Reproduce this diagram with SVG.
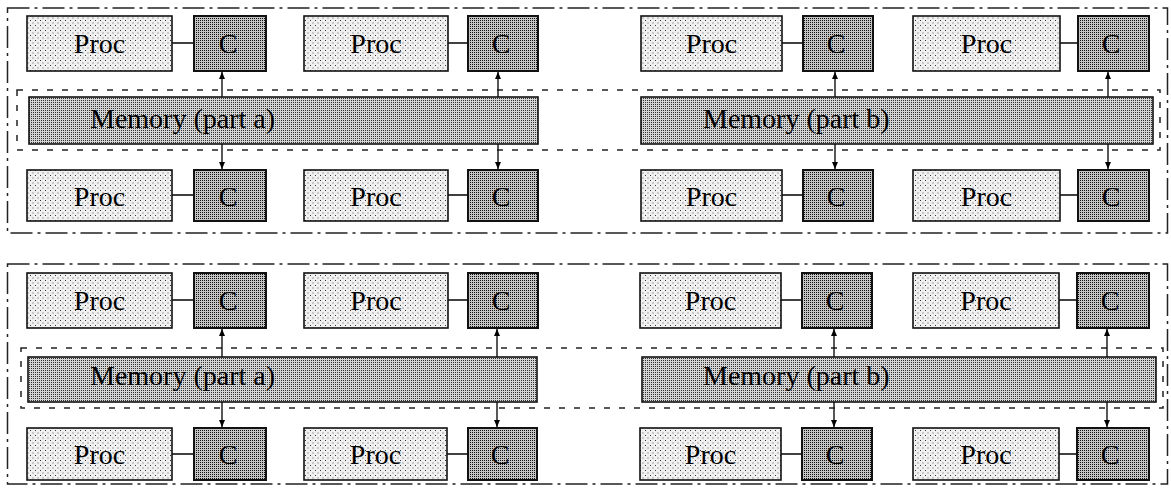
<svg xmlns="http://www.w3.org/2000/svg" width="1171" height="489" viewBox="0 0 1171 489">
<defs>
<pattern id="pProc" width="5" height="5" patternUnits="userSpaceOnUse">
<rect width="5" height="5" fill="#f0f0f0"/>
<rect x="0" y="0" width="1" height="1" fill="#333"/>
<rect x="2.5" y="2.5" width="1" height="1" fill="#555"/>
</pattern>
<pattern id="pC" width="2" height="2" patternUnits="userSpaceOnUse">
<rect width="2" height="2" fill="#c4c4c4"/>
<rect x="0" y="0" width="1" height="1" fill="#111"/>
</pattern>
<pattern id="pMem" width="2" height="2" patternUnits="userSpaceOnUse">
<rect width="2" height="2" fill="#d4d4d4"/>
<rect x="1" y="0" width="1" height="1" fill="#333"/>
</pattern>
<marker id="arr" markerWidth="8" markerHeight="8" refX="7" refY="4" orient="auto" markerUnits="userSpaceOnUse">
<path d="M0,1 L7,4 L0,7 Z" fill="#000"/>
</marker>
</defs>
<style>
.outer{fill:none;stroke:#222;stroke-width:1.5;stroke-dasharray:22 5 3 5}
.memzone{fill:none;stroke:#222;stroke-width:1.5;stroke-dasharray:6 9}
.proc{fill:url(#pProc);stroke:#111;stroke-width:1.6}
.cache{fill:url(#pC);stroke:#111;stroke-width:2}
.mem{fill:url(#pMem);stroke:#111;stroke-width:1.6}
text{font-family:"Liberation Serif","DejaVu Serif",serif;font-size:28px;fill:#000}
.ct{text-anchor:middle}
.link{stroke:#111;stroke-width:1.6;fill:none}
.arrow{stroke:#111;stroke-width:1.4;fill:none;marker-end:url(#arr)}
</style>

<!-- Panels -->
<g id="panel-top">
<rect class="outer" x="7.5" y="8" width="1160" height="225"/>
<rect class="memzone" x="17" y="90" width="1143" height="60"/>
</g>
<g id="panel-bottom">
<rect class="outer" x="7.5" y="264" width="1160" height="220"/>
<rect class="memzone" x="21" y="348" width="1142" height="60"/>
</g>

<!-- Top panel memories -->
<g id="memA1"><rect class="mem" x="29" y="97" width="509" height="47"/><text x="90" y="128">Memory (part a)</text></g>
<g id="memB1"><rect class="mem" x="641" y="97" width="512" height="47"/><text x="703" y="128">Memory (part b)</text></g>
<!-- Bottom panel memories -->
<g id="memA2"><rect class="mem" x="28" y="357" width="509" height="45"/><text x="90" y="385">Memory (part a)</text></g>
<g id="memB2"><rect class="mem" x="642" y="357" width="514" height="45"/><text x="703" y="385">Memory (part b)</text></g>

<!-- Top panel, row 1 -->
<g id="p1-r1-c1"><rect class="proc" x="27" y="16" width="145" height="55"/><text class="ct" x="99.5" y="53">Proc</text></g>
<g id="c1-r1-c1"><rect class="cache" x="194" y="16" width="72" height="55"/><text class="ct" x="228" y="53">C</text></g>
<g id="p1-r1-c2"><rect class="proc" x="304" y="16" width="144" height="55"/><text class="ct" x="376" y="53">Proc</text></g>
<g id="c1-r1-c2"><rect class="cache" x="468" y="16" width="70" height="55"/><text class="ct" x="501" y="53">C</text></g>
<g id="p1-r1-c3"><rect class="proc" x="641" y="16" width="141" height="55"/><text class="ct" x="711.5" y="53">Proc</text></g>
<g id="c1-r1-c3"><rect class="cache" x="803" y="16" width="70" height="55"/><text class="ct" x="836" y="53">C</text></g>
<g id="p1-r1-c4"><rect class="proc" x="913" y="16" width="147" height="55"/><text class="ct" x="986.5" y="53">Proc</text></g>
<g id="c1-r1-c4"><rect class="cache" x="1078" y="16" width="71" height="55"/><text class="ct" x="1111" y="53">C</text></g>

<!-- Top panel, row 2 -->
<g id="p1-r2-c1"><rect class="proc" x="27" y="170" width="145" height="51"/><text class="ct" x="99.5" y="206">Proc</text></g>
<g id="c1-r2-c1"><rect class="cache" x="194" y="170" width="72" height="51"/><text class="ct" x="228" y="206">C</text></g>
<g id="p1-r2-c2"><rect class="proc" x="304" y="170" width="144" height="51"/><text class="ct" x="376" y="206">Proc</text></g>
<g id="c1-r2-c2"><rect class="cache" x="468" y="170" width="70" height="51"/><text class="ct" x="501" y="206">C</text></g>
<g id="p1-r2-c3"><rect class="proc" x="641" y="170" width="141" height="51"/><text class="ct" x="711.5" y="206">Proc</text></g>
<g id="c1-r2-c3"><rect class="cache" x="803" y="170" width="70" height="51"/><text class="ct" x="836" y="206">C</text></g>
<g id="p1-r2-c4"><rect class="proc" x="913" y="170" width="147" height="51"/><text class="ct" x="986.5" y="206">Proc</text></g>
<g id="c1-r2-c4"><rect class="cache" x="1078" y="170" width="71" height="51"/><text class="ct" x="1111" y="206">C</text></g>

<!-- Bottom panel, row 1 -->
<g id="p2-r1-c1"><rect class="proc" x="27" y="273" width="145" height="55"/><text class="ct" x="99.5" y="310">Proc</text></g>
<g id="c2-r1-c1"><rect class="cache" x="194" y="273" width="72" height="55"/><text class="ct" x="228" y="310">C</text></g>
<g id="p2-r1-c2"><rect class="proc" x="304" y="273" width="144" height="55"/><text class="ct" x="376" y="310">Proc</text></g>
<g id="c2-r1-c2"><rect class="cache" x="468" y="273" width="70" height="55"/><text class="ct" x="501" y="310">C</text></g>
<g id="p2-r1-c3"><rect class="proc" x="640" y="273" width="141" height="55"/><text class="ct" x="710.5" y="310">Proc</text></g>
<g id="c2-r1-c3"><rect class="cache" x="802" y="273" width="70" height="55"/><text class="ct" x="835" y="310">C</text></g>
<g id="p2-r1-c4"><rect class="proc" x="913" y="273" width="146" height="55"/><text class="ct" x="986" y="310">Proc</text></g>
<g id="c2-r1-c4"><rect class="cache" x="1077" y="273" width="72" height="55"/><text class="ct" x="1110" y="310">C</text></g>

<!-- Bottom panel, row 2 -->
<g id="p2-r2-c1"><rect class="proc" x="27" y="428" width="145" height="52"/><text class="ct" x="99.5" y="464">Proc</text></g>
<g id="c2-r2-c1"><rect class="cache" x="194" y="428" width="72" height="52"/><text class="ct" x="228" y="464">C</text></g>
<g id="p2-r2-c2"><rect class="proc" x="304" y="428" width="143" height="52"/><text class="ct" x="375.5" y="464">Proc</text></g>
<g id="c2-r2-c2"><rect class="cache" x="468" y="428" width="69" height="52"/><text class="ct" x="500" y="464">C</text></g>
<g id="p2-r2-c3"><rect class="proc" x="640" y="428" width="141" height="52"/><text class="ct" x="710.5" y="464">Proc</text></g>
<g id="c2-r2-c3"><rect class="cache" x="802" y="428" width="70" height="52"/><text class="ct" x="835" y="464">C</text></g>
<g id="p2-r2-c4"><rect class="proc" x="913" y="428" width="146" height="52"/><text class="ct" x="986" y="464">Proc</text></g>
<g id="c2-r2-c4"><rect class="cache" x="1077" y="428" width="72" height="52"/><text class="ct" x="1110" y="464">C</text></g>

<!-- Connectors -->
<g id="connectors">
<line class="link" x1="172" y1="43" x2="194" y2="43"/>
<line class="link" x1="448" y1="43" x2="468" y2="43"/>
<line class="link" x1="782" y1="43" x2="803" y2="43"/>
<line class="link" x1="1060" y1="43" x2="1078" y2="43"/>
<line class="link" x1="172" y1="195" x2="194" y2="195"/>
<line class="link" x1="448" y1="195" x2="468" y2="195"/>
<line class="link" x1="782" y1="195" x2="803" y2="195"/>
<line class="link" x1="1060" y1="195" x2="1078" y2="195"/>
<line class="link" x1="172" y1="300" x2="194" y2="300"/>
<line class="link" x1="448" y1="300" x2="468" y2="300"/>
<line class="link" x1="781" y1="300" x2="802" y2="300"/>
<line class="link" x1="1059" y1="300" x2="1077" y2="300"/>
<line class="link" x1="172" y1="454" x2="194" y2="454"/>
<line class="link" x1="447" y1="454" x2="468" y2="454"/>
<line class="link" x1="781" y1="454" x2="802" y2="454"/>
<line class="link" x1="1059" y1="454" x2="1077" y2="454"/>

<line class="arrow" x1="222" y1="97" x2="222" y2="72"/>
<line class="arrow" x1="498" y1="97" x2="498" y2="72"/>
<line class="arrow" x1="835" y1="97" x2="835" y2="72"/>
<line class="arrow" x1="1108" y1="97" x2="1108" y2="72"/>
<line class="arrow" x1="222" y1="144" x2="222" y2="169"/>
<line class="arrow" x1="498" y1="144" x2="498" y2="169"/>
<line class="arrow" x1="835" y1="144" x2="835" y2="169"/>
<line class="arrow" x1="1108" y1="144" x2="1108" y2="169"/>
<line class="arrow" x1="222" y1="357" x2="222" y2="329"/>
<line class="arrow" x1="497" y1="357" x2="497" y2="329"/>
<line class="arrow" x1="834" y1="357" x2="834" y2="329"/>
<line class="arrow" x1="1107" y1="357" x2="1107" y2="329"/>
<line class="arrow" x1="222" y1="402" x2="222" y2="427"/>
<line class="arrow" x1="497" y1="402" x2="497" y2="427"/>
<line class="arrow" x1="834" y1="402" x2="834" y2="427"/>
<line class="arrow" x1="1107" y1="402" x2="1107" y2="427"/>
</g>
</svg>
